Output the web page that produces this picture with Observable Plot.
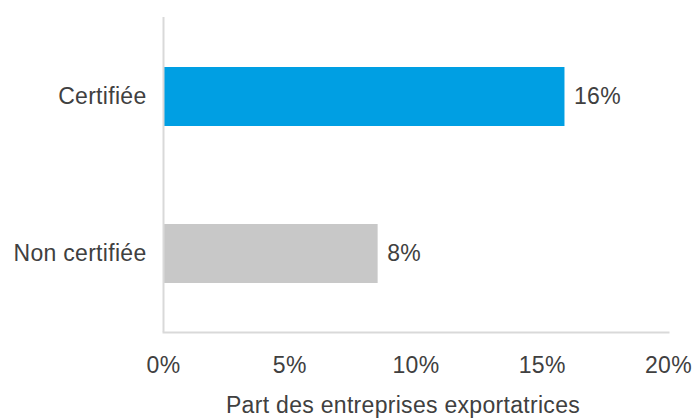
<!DOCTYPE html>
<html>
<head>
<meta charset="utf-8">
<script src="https://cdn.jsdelivr.net/npm/d3@7"></script>
<script src="https://cdn.jsdelivr.net/npm/@observablehq/plot@0.6"></script>
<style>
  html, body { margin: 0; padding: 0; background: #fff; }
  #chart svg { display: block; }
  #chart svg text { letter-spacing: 0.3px; }
</style>
</head>
<body>
<div id="chart"></div>
<script>
const categories = ["Certifiée", "Non certifiée"];
const values = [15.9, 8.5];
const valueLabels = ["16%", "8%"];
const colors = ["#009FE3", "#C8C8C8"];
const xTicks = [0, 5, 10, 15, 20];
const xTitle = "Part des entreprises exportatrices";

const data = categories.map((c, i) => ({cat: c, v: values[i], label: valueLabels[i], color: colors[i]}));

const font = "'Liberation Sans', Arial, Helvetica, sans-serif";
const fs = 23;
const chart = Plot.plot({
  width: 693,
  height: 419,
  marginLeft: 163,
  marginRight: 25,
  marginTop: 17,
  marginBottom: 87,
  style: {fontFamily: font, fontSize: fs + "px", color: "#404040", background: "#fff"},
  x: {domain: [0, 20], ticks: xTicks, tickFormat: d => d + "%", label: null},
  y: {domain: categories, padding: 0, label: null},
  marks: [
    Plot.barX(data, {y: "cat", x: "v", fill: "color", insetTop: 49, insetBottom: 49}),
    Plot.text(data, {y: "cat", x: "v", text: "label", textAnchor: "start", dx: 9, fill: "#404040", fontSize: fs}),
    Plot.ruleX([0], {stroke: "#D9D9D9", strokeWidth: 2}),
    Plot.frame({anchor: "bottom", stroke: "#D9D9D9", strokeWidth: 2}),
    Plot.axisX({ticks: xTicks, tickFormat: d => d + "%", tickSize: 0, tickPadding: 24, fontSize: fs, fill: "#404040", label: null}),
    Plot.axisY({tickSize: 0, tickPadding: 17, fontSize: fs, fill: "#404040", label: null}),
    Plot.text([xTitle], {frameAnchor: "bottom", dy: 80, fontSize: fs, fill: "#404040", textAnchor: "middle", dx: -13})
  ]
});
document.getElementById("chart").appendChild(chart);
</script>
</body>
</html>
